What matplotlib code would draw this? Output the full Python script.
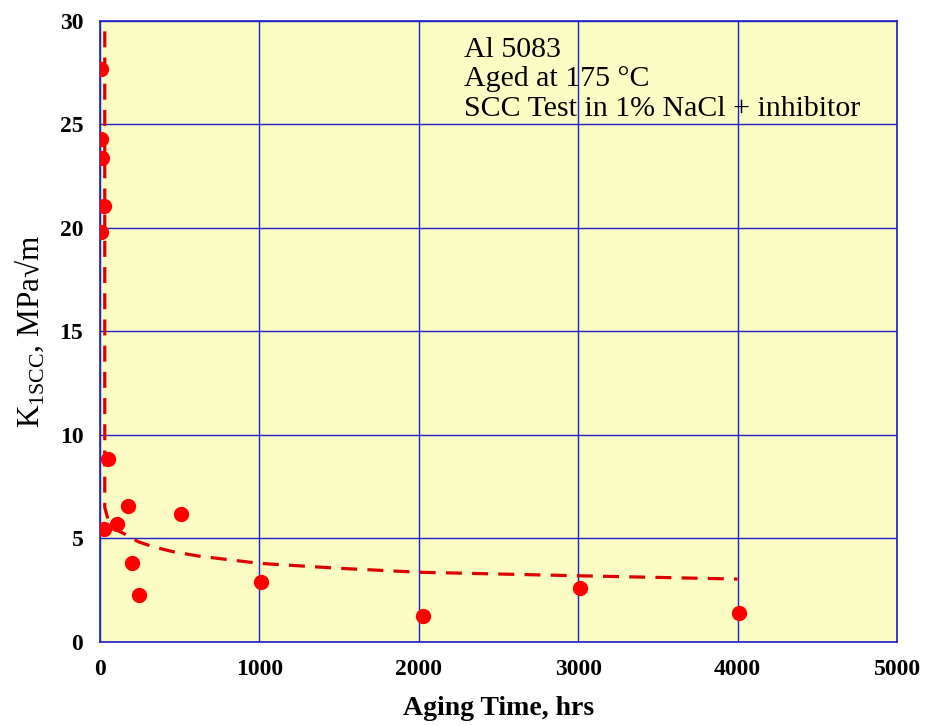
import matplotlib
matplotlib.use("Agg")
import matplotlib.pyplot as plt

plt.rcParams["font.family"] = ["Liberation Serif", "DejaVu Serif"]
plt.rcParams["mathtext.fontset"] = "custom"
plt.rcParams["mathtext.rm"] = "Liberation Serif"

# measured points (aging time in hrs, K1scc in MPa*sqrt(m))
aging_hrs = [4, 4, 13, 25, 4, 52, 25, 105, 174, 203, 243, 506, 1010, 2028, 3013, 4011]
k1scc = [27.7, 24.3, 23.4, 21.05, 19.8, 8.85, 5.45, 5.7, 6.55, 3.8, 2.27, 6.2, 2.9, 1.27, 2.6, 1.4]

# dashed trend line
trend_hrs = [30, 30, 63, 167, 238, 333, 460, 620, 1000, 1500, 2000, 3000, 4000]
trend_k = [29.5, 6.5, 5.57, 5.17, 4.85, 4.6, 4.36, 4.15, 3.8, 3.56, 3.37, 3.2, 3.04]

x_ticks = [0, 1000, 2000, 3000, 4000, 5000]
y_ticks = [0, 5, 10, 15, 20, 25, 30]

note = "Al 5083\nAged at 175 \u00b0C\nSCC Test in 1% NaCl + inhibitor"
y_title = r"K$_{\mathregular{1SCC}}$, MPa" + "\u221am"

grid_col = "#1f1fcc"

fig = plt.figure(figsize=(9.31, 7.26), dpi=100)
ax = fig.add_axes([0.1074, 0.1157, 0.8561, 0.8554])
ax.set_facecolor("#fbfbc4")

ax.plot(trend_hrs, trend_k, color="#dd0000", lw=2.3, dashes=(5, 3.2), zorder=3)
ax.plot(aging_hrs, k1scc, "o", color="red", ms=10, zorder=4)

ax.set_xlim(0, 5000)
ax.set_ylim(0, 30)
ax.set_xticks(x_ticks)
ax.set_yticks(y_ticks)
ax.grid(True, color=grid_col, lw=1.0, zorder=1)
ax.set_axisbelow(True)
for s in ax.spines.values():
    s.set_color(grid_col)
    s.set_linewidth(1.2)
ax.tick_params(length=0, labelsize=17, pad=12)
for lbl in ax.get_xticklabels() + ax.get_yticklabels():
    lbl.set_fontweight("bold")

ax.set_xlabel("Aging Time, hrs", fontsize=20, fontweight="bold", labelpad=12)
ax.set_ylabel(y_title, fontsize=22.5, labelpad=10)

ax.text(0.457, 0.975, note, transform=ax.transAxes, fontsize=21.5,
        va="top", ha="left", linespacing=1.18, zorder=2)

fig.savefig("out.png", dpi=100)
